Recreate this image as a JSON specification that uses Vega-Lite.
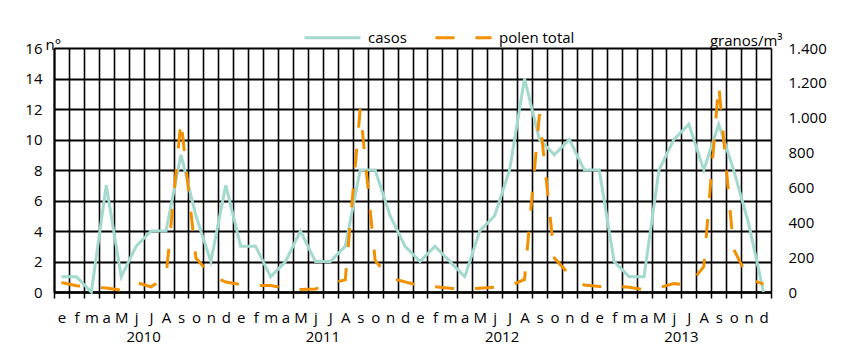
{
  "$schema": "https://vega.github.io/schema/vega-lite/v6.json",
  "width": 717,
  "height": 244,
  "autosize": {"type": "none"},
  "padding": {"left": 54, "top": 48, "right": 70, "bottom": 57},
  "background": "white",
  "config": {
    "view": {"stroke": null},
    "font": "Open Sans",
    "axis": {"labelColor": "black", "titleColor": "black", "labelFontSize": 15, "titleFontSize": 15, "titleFontWeight": "normal"},
    "axisX": {
      "title": null, "tickBand": "extent", "labelAngle": 0,
      "labelExpr": "['e','f','m','a','M','j','J','A','s','o','n','d'][datum.value % 12]",
      "grid": true, "gridColor": "black", "gridWidth": 1.6, "gridOpacity": 1,
      "ticks": true, "tickSize": 6, "tickColor": "black", "tickWidth": 1.5,
      "domain": true, "domainColor": "black", "domainWidth": 2.5,
      "labelPadding": 12
    },
    "legend": {"labelColor": "black", "labelFontSize": 15}
  },
  "data": {
    "values": [
      {"i": 0, "casos": 1, "polen": 55},
      {"i": 1, "casos": 1, "polen": 36},
      {"i": 2, "casos": 0, "polen": 29},
      {"i": 3, "casos": 7, "polen": 23},
      {"i": 4, "casos": 1, "polen": 10},
      {"i": 5, "casos": 3, "polen": 55},
      {"i": 6, "casos": 4, "polen": 30},
      {"i": 7, "casos": 4, "polen": 85},
      {"i": 8, "casos": 9, "polen": 985},
      {"i": 9, "casos": 5, "polen": 195},
      {"i": 10, "casos": 2, "polen": 97},
      {"i": 11, "casos": 7, "polen": 57},
      {"i": 12, "casos": 3, "polen": 42},
      {"i": 13, "casos": 3, "polen": 38},
      {"i": 14, "casos": 1, "polen": 37},
      {"i": 15, "casos": 2, "polen": 22},
      {"i": 16, "casos": 4, "polen": 15},
      {"i": 17, "casos": 2, "polen": 17},
      {"i": 18, "casos": 2, "polen": 47},
      {"i": 19, "casos": 3, "polen": 70},
      {"i": 20, "casos": 8, "polen": 1050},
      {"i": 21, "casos": 8, "polen": 180},
      {"i": 22, "casos": 5, "polen": 81},
      {"i": 23, "casos": 3, "polen": 58},
      {"i": 24, "casos": 2, "polen": 36},
      {"i": 25, "casos": 3, "polen": 30},
      {"i": 26, "casos": 2, "polen": 22},
      {"i": 27, "casos": 1, "polen": 17},
      {"i": 28, "casos": 4, "polen": 22},
      {"i": 29, "casos": 5, "polen": 28},
      {"i": 30, "casos": 8, "polen": 34},
      {"i": 31, "casos": 14, "polen": 72},
      {"i": 32, "casos": 10, "polen": 1020},
      {"i": 33, "casos": 9, "polen": 195},
      {"i": 34, "casos": 10, "polen": 100},
      {"i": 35, "casos": 8, "polen": 40},
      {"i": 36, "casos": 8, "polen": 31},
      {"i": 37, "casos": 2, "polen": 33},
      {"i": 38, "casos": 1, "polen": 27},
      {"i": 39, "casos": 1, "polen": 13},
      {"i": 40, "casos": 8, "polen": 25},
      {"i": 41, "casos": 10, "polen": 48},
      {"i": 42, "casos": 11, "polen": 40},
      {"i": 43, "casos": 8, "polen": 145},
      {"i": 44, "casos": 11, "polen": 1190},
      {"i": 45, "casos": 8, "polen": 245},
      {"i": 46, "casos": 4.5, "polen": 76},
      {"i": 47, "casos": 0, "polen": 45}
    ]
  },
  "layer": [
    {
      "mark": {"type": "line", "strokeWidth": 3, "strokeCap": "butt"},
      "encoding": {
        "x": {
          "field": "i", "type": "ordinal", "bandPosition": 0.5,
          "scale": {"type": "band", "paddingInner": 0, "paddingOuter": 0}
        },
        "y": {
          "field": "casos", "type": "quantitative",
          "scale": {"domain": [0, 16], "nice": false},
          "axis": {
            "values": [0, 2, 4, 6, 8, 10, 12, 14, 16],
            "grid": true, "gridColor": "black", "gridWidth": 2, "gridOpacity": 1,
            "ticks": false, "domain": true, "domainColor": "black", "domainWidth": 2,
            "labelPadding": 12,
            "title": "n°", "titleAngle": 0, "titleX": -9, "titleY": 1,
            "titleAlign": "left", "titleBaseline": "alphabetic"
          }
        },
        "stroke": {
          "datum": "casos", "type": "nominal",
          "scale": {"domain": ["casos", "polen total"], "range": ["#a3d9cf", "#f29100"]},
          "legend": {
            "orient": "none", "legendX": 249, "legendY": -40, "direction": "horizontal",
            "title": null, "symbolType": "stroke", "symbolSize": 3136, "symbolStrokeWidth": 3,
            "labelOffset": 6, "columnPadding": 22, "labelFontSize": 15
          }
        },
        "strokeDash": {
          "datum": "casos", "type": "nominal",
          "scale": {"domain": ["casos", "polen total"], "range": [[1, 0], [19, 21]]},
          "legend": {
            "orient": "none", "legendX": 249, "legendY": -40, "direction": "horizontal",
            "title": null, "symbolType": "stroke", "symbolSize": 3136, "symbolStrokeWidth": 3,
            "labelOffset": 6, "columnPadding": 22, "labelFontSize": 15
          }
        }
      }
    },
    {
      "mark": {"type": "line", "strokeWidth": 3, "strokeCap": "butt"},
      "encoding": {
        "x": {"field": "i", "type": "ordinal", "bandPosition": 0.5},
        "y": {
          "field": "polen", "type": "quantitative",
          "scale": {"domain": [0, 1400], "nice": false},
          "axis": {
            "orient": "right",
            "values": [0, 200, 400, 600, 800, 1000, 1200, 1400],
            "labelExpr": "replace(format(datum.value, ','), ',', '.')",
            "grid": false, "ticks": false, "domain": false,
            "labelPadding": 17,
            "title": "granos/m³", "titleAngle": 0, "titleX": 11, "titleY": -3,
            "titleAlign": "right", "titleBaseline": "alphabetic"
          }
        },
        "stroke": {"datum": "polen total", "type": "nominal"},
        "strokeDash": {"datum": "polen total", "type": "nominal"}
      }
    },
    {
      "data": {
        "values": [
          {"i": 6, "year": "2010"},
          {"i": 18, "year": "2011"},
          {"i": 30, "year": "2012"},
          {"i": 42, "year": "2013"}
        ]
      },
      "mark": {"type": "text", "fontSize": 15, "dy": 45, "baseline": "middle", "color": "black"},
      "encoding": {
        "x": {"field": "i", "type": "ordinal", "bandPosition": 0},
        "y": {"datum": 0, "type": "quantitative", "scale": {"domain": [0, 16], "nice": false}, "axis": null},
        "text": {"field": "year"}
      }
    }
  ],
  "resolve": {"scale": {"y": "independent"}}
}
